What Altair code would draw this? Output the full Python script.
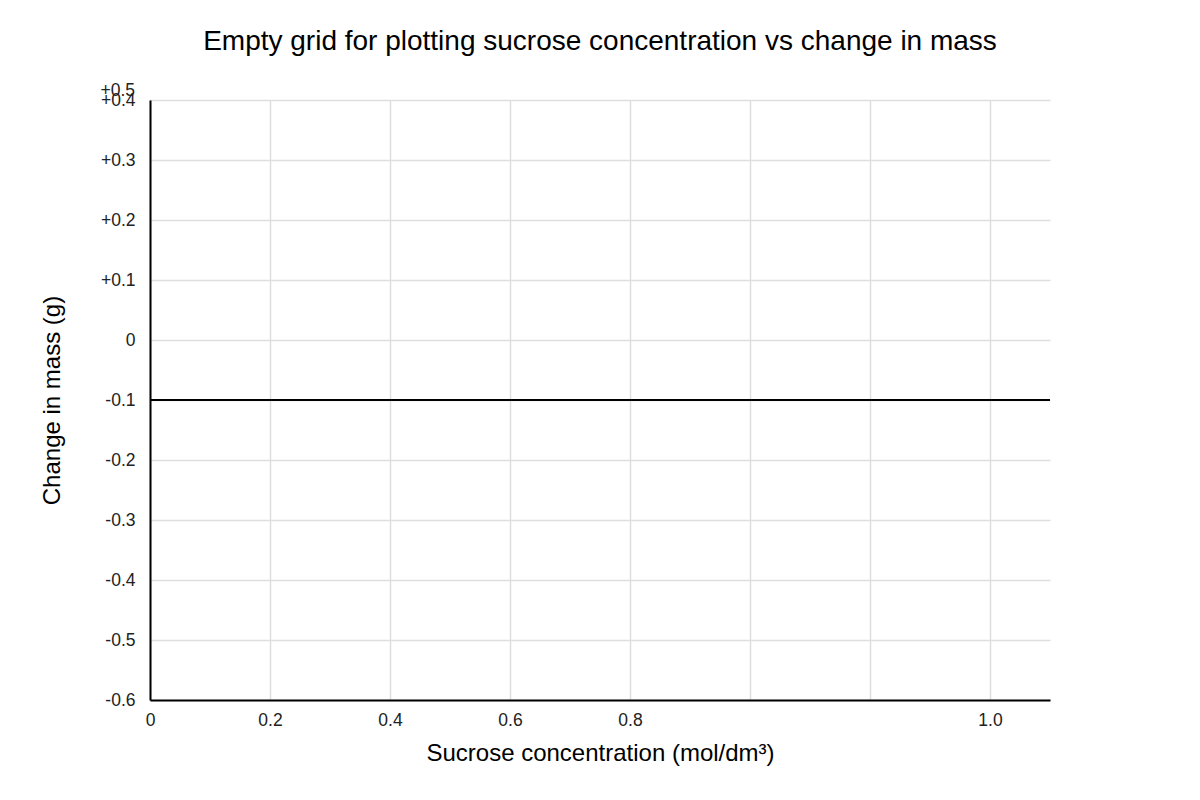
import altair as alt
import pandas as pd

# axis ticks and their printed labels, as drawn on the empty grid
x_tick_values = [0, 0.2, 0.4, 0.6, 0.8, 1.0, 1.2, 1.4]
x_tick_labels = ['0', '0.2', '0.4', '0.6', '0.8', '', '', '1.0']

y_tick_values = [-0.6, -0.5, -0.4, -0.3, -0.2, -0.1, 0, 0.1, 0.2, 0.3, 0.4]
y_tick_labels = ['-0.6', '-0.5', '-0.4', '-0.3', '-0.2', '-0.1', '0',
                 '+0.1', '+0.2', '+0.3', '+0.4']

# the dark reference line and the stray extra top label
ref_line = [-0.1]
extra_label = ['+0.5']
extra_label_at = [0.4]

FONT = 'Liberation Sans'

x_expr = '[' + ','.join(f"'{l}'" for l in x_tick_labels) + '][round(datum.value*5)]'
y_expr = '[' + ','.join(f"'{l}'" for l in y_tick_labels) + '][round((datum.value+0.6)*10)]'

x_enc = alt.X('x:Q',
    scale=alt.Scale(domain=[0, 1.5], nice=False, zero=False),
    axis=alt.Axis(values=x_tick_values, labelExpr=x_expr,
        title='Sucrose concentration (mol/dm³)'))
y_enc = alt.Y('y:Q',
    scale=alt.Scale(domain=[-0.6, 0.4], nice=False, zero=False),
    axis=alt.Axis(values=y_tick_values, labelExpr=y_expr,
        title='Change in mass (g)'))

rule = alt.Chart(pd.DataFrame({'y': ref_line})).mark_rule(
    color='black', strokeWidth=2
).encode(y=y_enc)

text = alt.Chart(pd.DataFrame({'x': [0], 'y': extra_label_at,
                               'label': extra_label})).mark_text(
    align='right', baseline='middle', dx=-15, dy=-9.5,
    font=FONT, fontSize=17.5, color='#222'
).encode(x=x_enc, y=y_enc, text='label:N')

chart = alt.layer(text, rule).properties(
    width=900,
    height=600,
    title=alt.TitleParams('Empty grid for plotting sucrose concentration vs change in mass',
        font=FONT, fontSize=28, fontWeight='normal', color='black',
        anchor='middle', offset=26),
    autosize=alt.AutoSizeParams(type='none'),
    padding={'left': 142, 'top': 92, 'right': 142, 'bottom': 92},
).configure_view(
    stroke=None
).configure_axis(
    domainColor='black', domainWidth=2,
    gridColor='#dedede', gridWidth=1.5,
    ticks=False, labelFlush=False,
    labelFont=FONT, labelFontSize=17.5, labelColor='#222',
    titleFont=FONT, titleFontSize=24, titleFontWeight='normal', titleColor='black',
).configure_axisX(
    labelPadding=11, titlePadding=13,
).configure_axisY(
    labelPadding=15, titlePadding=36,
)

chart.save("out.html", embed_options={"renderer": "svg", "actions": False})
